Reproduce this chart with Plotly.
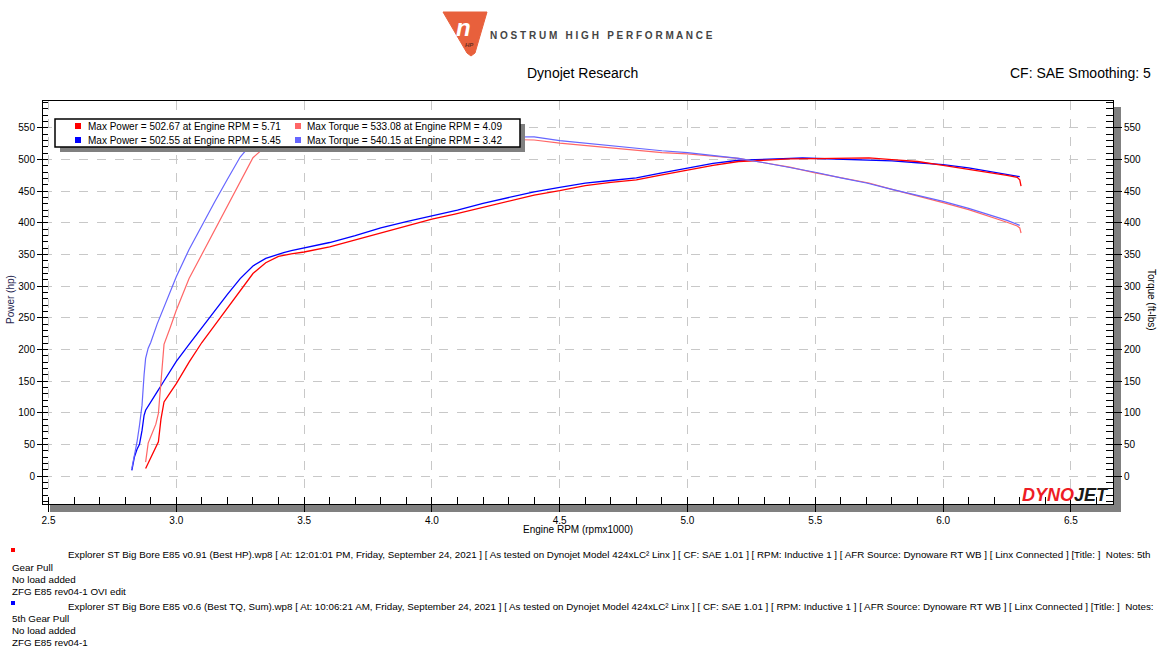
import plotly.graph_objects as go

# ---------------- data ----------------
rpm_b = [2.826, 2.836, 2.846, 2.856, 2.866, 2.874, 2.880, 2.890, 2.900, 2.925, 2.950, 2.975,
         3.000, 3.050, 3.100, 3.150, 3.200, 3.250, 3.300, 3.350, 3.400, 3.420, 3.450, 3.500,
         3.600, 3.700, 3.800, 3.900, 4.000, 4.100, 4.200, 4.300, 4.400, 4.500, 4.600, 4.700,
         4.800, 4.900, 5.000, 5.100, 5.200, 5.300, 5.400, 5.450, 5.500, 5.600, 5.700, 5.800,
         5.900, 6.000, 6.100, 6.200, 6.250, 6.300]
power_b = [9, 30, 42, 50, 72, 96, 104, 110, 117, 133, 149, 165,
           181, 208, 235, 261, 287, 312, 332, 344, 351, 353, 356, 360,
           369, 380, 392, 402, 411, 420, 431, 440, 449, 456, 463, 467,
           471, 479, 487, 494, 499, 501, 502, 502.55, 502, 501, 500, 498,
           495, 492, 487, 480, 476, 473]
torque_b = [12, 30, 53, 80, 112, 160, 186, 202, 211, 240, 266, 290,
            315, 358, 396, 433, 469, 504, 528, 537, 539.5, 540.15, 539.5, 538.5,
            537, 536.5, 536, 535.5, 535, 535, 535.5, 536, 536, 530, 526, 522,
            517, 514, 511, 507, 502, 495, 488, 484, 480, 471, 463, 453,
            444, 434, 423, 411, 404, 396]

rpm_r = [2.880, 2.890, 2.900, 2.910, 2.920, 2.930, 2.940, 2.946, 2.952, 2.975, 3.000, 3.050,
         3.100, 3.150, 3.200, 3.250, 3.300, 3.350, 3.400, 3.450, 3.500, 3.600, 3.700, 3.800,
         3.900, 4.000, 4.090, 4.200, 4.300, 4.400, 4.500, 4.600, 4.700, 4.800, 4.900, 5.000,
         5.100, 5.200, 5.300, 5.400, 5.500, 5.600, 5.710, 5.800, 5.900, 6.000, 6.100, 6.200,
         6.250, 6.290, 6.300, 6.305]
power_r = [12, 20, 28, 36, 44, 54, 90, 105, 117, 131, 146, 180,
           211, 238, 266, 294, 320, 337, 347, 351, 354, 362, 373, 385,
           396, 406, 414, 425, 435, 444, 451, 459, 464, 468, 476, 484,
           491, 497, 499.5, 501, 501.5, 502, 502.67, 500, 497, 491, 485, 478,
           475, 472, 468, 458]
torque_r = [22, 52, 62, 72, 82, 99, 150, 190, 208, 233, 262, 312,
            350, 387, 425, 465, 503, 521, 527, 529, 530, 530.5, 531, 531.5,
            532, 532.7, 533.08, 532.5, 532, 531, 526, 522, 518, 514, 511, 509,
            506, 502, 495, 488, 479, 471, 463, 453, 443, 432, 421, 408,
            401, 395, 392, 384]

run_files = [
    "Explorer ST Big Bore E85 v0.91 (Best HP).wp8 [ At: 12:01:01 PM, Friday, September 24, 2021 ] "
    "[ As tested on Dynojet Model 424xLC² Linx ] [ CF: SAE 1.01 ] [ RPM: Inductive 1 ] "
    "[ AFR Source: Dynoware RT WB ] [ Linx Connected ] [Title: ]  Notes: 5th",
    "Explorer ST Big Bore E85 v0.6 (Best TQ, Sum).wp8 [ At: 10:06:21 AM, Friday, September 24, 2021 ] "
    "[ As tested on Dynojet Model 424xLC² Linx ] [ CF: SAE 1.01 ] [ RPM: Inductive 1 ] "
    "[ AFR Source: Dynoware RT WB ] [ Linx Connected ] [Title: ]  Notes:",
]
run_notes = [
    ["Gear Pull", "No load added", "ZFG E85 rev04-1 OVI edit"],
    ["5th Gear Pull", "No load added", "ZFG E85 rev04-1"],
]

# ---------------- styling ----------------
FONT = "Liberation Sans, Arial, sans-serif"
RED, BLUE = "#ff0000", "#0000ff"
LRED, LBLUE = "#ff6666", "#6666ff"

W, H = 1167, 656
L, R, T, B = 43, 1113, 101, 504


def px(x):
    return (x - L) / (R - L)


def py(y):
    return (B - y) / (B - T)


fig = go.Figure()
fig.add_trace(go.Scatter(x=rpm_r, y=torque_r, mode="lines", line=dict(color=LRED, width=1.2), yaxis="y2"))
fig.add_trace(go.Scatter(x=rpm_b, y=torque_b, mode="lines", line=dict(color=LBLUE, width=1.2), yaxis="y2"))
fig.add_trace(go.Scatter(x=rpm_b, y=power_b, mode="lines", line=dict(color=BLUE, width=1.3)))
fig.add_trace(go.Scatter(x=rpm_r, y=power_r, mode="lines", line=dict(color=RED, width=1.3)))

yr = [-44.2, 592.6]
tickfont = dict(family=FONT, size=10, color="black")

fig.update_layout(
    width=W, height=H,
    margin=dict(l=L, r=W - R, t=T, b=H - B, pad=0),
    paper_bgcolor="white", plot_bgcolor="white",
    showlegend=False,
    font=dict(family=FONT, size=10, color="black"),
    xaxis=dict(range=[2.4785, 6.6648], dtick=0.5, tick0=2.5, tickformat=".1f",
               showline=True, linecolor="black", linewidth=1, mirror=True,
               ticks="outside", ticklen=7, tickcolor="black",
               showgrid=True, gridcolor="#c8c8c8", griddash="dash", gridwidth=1,
               zeroline=False, tickfont=tickfont,
               minor=dict(dtick=0.1, ticks="inside", ticklen=7, tickcolor="black", showgrid=False)),
    yaxis=dict(range=yr, dtick=50, tick0=0,
               showline=True, linecolor="black", linewidth=1,
               ticks="outside", ticklen=5, tickcolor="black",
               showgrid=True, gridcolor="#c8c8c8", griddash="dash", gridwidth=1,
               zeroline=False, tickfont=tickfont,
               minor=dict(dtick=10, ticks="inside", ticklen=5, tickcolor="black", showgrid=False)),
    yaxis2=dict(range=yr, dtick=50, tick0=0, overlaying="y", side="right",
                showline=True, linecolor="black", linewidth=1,
                ticks="outside", ticklen=8, tickcolor="black",
                showgrid=False, zeroline=False, tickfont=tickfont,
                minor=dict(dtick=10, ticks="inside", ticklen=7, tickcolor="black", showgrid=False)),
)

shapes = []
# gray shadow bands along bottom and right
shapes.append(dict(type="rect", xref="paper", yref="paper", x0=px(50), x1=px(1121), y0=py(512), y1=py(505),
                   fillcolor="#808080", line=dict(width=0), layer="below"))
shapes.append(dict(type="rect", xref="paper", yref="paper", x0=px(1114), x1=px(1121), y0=py(512), y1=py(107),
                   fillcolor="#808080", line=dict(width=0), layer="below"))
# legend box with shadow
shapes.append(dict(type="rect", xref="paper", yref="paper", x0=px(60), x1=px(525), y0=py(152), y1=py(124),
                   fillcolor="#808080", line=dict(width=0), layer="above"))
shapes.append(dict(type="rect", xref="paper", yref="paper", x0=px(55), x1=px(520), y0=py(147), y1=py(119),
                   fillcolor="white", line=dict(color="black", width=1.5), layer="above"))
# legend colour squares
for (sx, sy, col) in [(78, 126, RED), (78, 140, BLUE), (298, 126, LRED), (298, 140, LBLUE)]:
    shapes.append(dict(type="rect", xref="paper", yref="paper", x0=px(sx - 3), x1=px(sx + 3),
                       y0=py(sy + 3), y1=py(sy - 3), fillcolor=col, line=dict(width=0), layer="above"))
# footnote squares
for (sx, sy, col) in [(13, 550, RED), (13, 603, BLUE)]:
    shapes.append(dict(type="rect", xref="paper", yref="paper", x0=px(sx - 2), x1=px(sx + 2),
                       y0=py(sy + 2), y1=py(sy - 2), fillcolor=col, line=dict(width=0), layer="above"))
# Nostrum logo badge
lx = [443, 487, 475, 471, 467]
ly = [12, 12, 53, 56, 53]
path = "M " + " L ".join(f"{px(a)},{py(b)}" for a, b in zip(lx, ly)) + " Z"
shapes.append(dict(type="path", xref="paper", yref="paper", path=path,
                   fillcolor="#e8603c", line=dict(color="#e8603c", width=1), layer="above"))
fig.update_layout(shapes=shapes)

ann = []


def text(x, y, s, size=10, xanchor="left", color="black", angle=0, yanchor="middle", family=FONT):
    ann.append(dict(x=px(x), y=py(y), xref="paper", yref="paper", text=s, showarrow=False,
                    xanchor=xanchor, yanchor=yanchor, textangle=angle,
                    font=dict(family=family, size=size, color=color)))


def maxinfo(rpm, vals):
    i = max(range(len(vals)), key=lambda k: vals[k])
    return vals[i], rpm[i]


p_r, pr_rpm = maxinfo(rpm_r, power_r)
p_b, pb_rpm = maxinfo(rpm_b, power_b)
t_r, tr_rpm = maxinfo(rpm_r, torque_r)
t_b, tb_rpm = maxinfo(rpm_b, torque_b)
text(86, 126, f"Max Power = {p_r:.2f} at Engine RPM = {pr_rpm:.2f}")
text(86, 140, f"Max Power = {p_b:.2f} at Engine RPM = {pb_rpm:.2f}")
text(305, 126, f"Max Torque = {t_r:.2f} at Engine RPM = {tr_rpm:.2f}")
text(305, 140, f"Max Torque = {t_b:.2f} at Engine RPM = {tb_rpm:.2f}")

# titles
text(583, 73, "Dynojet Research", size=14, xanchor="center")
text(1153, 73, "CF: SAE Smoothing: 5", size=14, xanchor="right")
text(488, 35, "<b>N O S T R U M \u00a0 H I G H \u00a0 P E R F O R M A N C E</b>", size=10, color="#444444")
text(463, 28, "<b><i>n</i></b>", size=24, xanchor="center", color="white")
text(469, 45, "<b><i>HP</i></b>", size=6, xanchor="center", color="#6b3020")

# axis titles
text(578, 529, "Engine RPM (rpmx1000)", size=10, xanchor="center")
text(10, 300, "Power (hp)", size=10, xanchor="center", angle=-90, color="#262650")
text(1152, 300, "Torque (ft-lbs)", size=10, xanchor="center", angle=90)

# DynoJet logo
text(1111, 495, "<b><i><span style='color:#ee1c25'>DYNO</span><span style='color:#1a1a1a'>JET</span></i></b>",
     size=18, xanchor="right")

# footnotes
text(66, 554, run_files[0], size=9.8)
for k, s in enumerate(run_notes[0]):
    text(10, 567 + 12 * k, s, size=9.8)
text(66, 606, run_files[1], size=9.8)
for k, s in enumerate(run_notes[1]):
    text(10, 618 + 12 * k, s, size=9.8)

fig.update_layout(annotations=ann)
fig.write_html("out.html", config={"displayModeBar": False},
               post_script="document.body.style.margin='0px';")
